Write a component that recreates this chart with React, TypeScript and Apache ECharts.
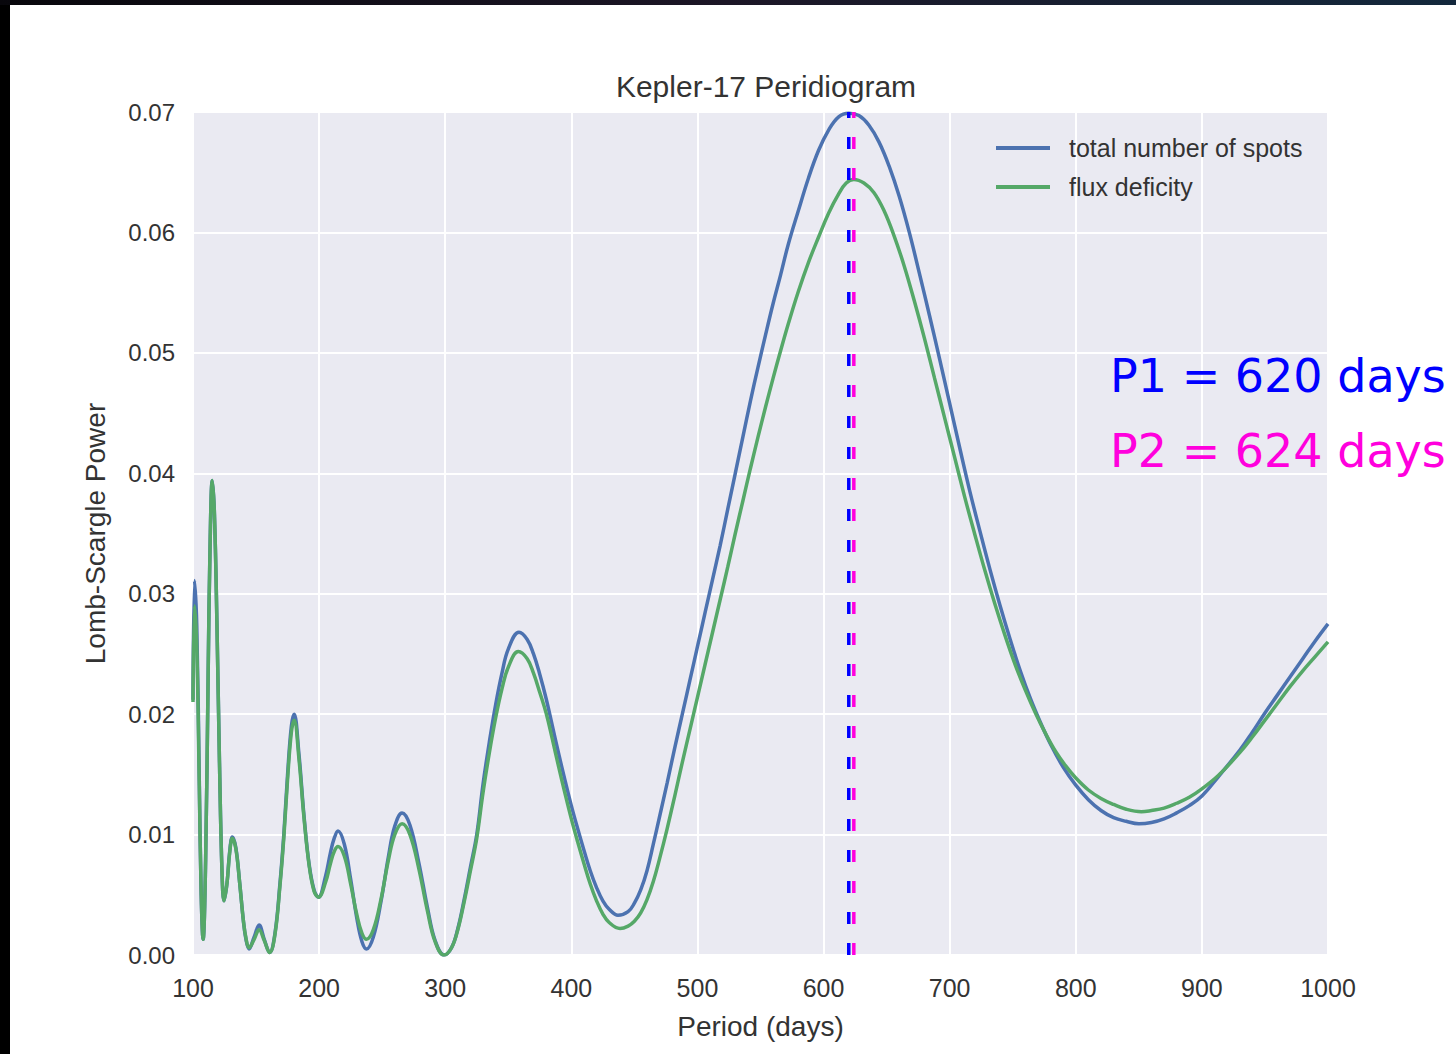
import React, { useEffect, useRef } from "react";
import * as echarts from "echarts";

const titleText = "Kepler-17 Peridiogram";
const xAxisName = "Period (days)";
const yAxisName = "Lomb-Scargle Power";
const seriesNames = ["total number of spots", "flux deficity"];

const bluePeriods = [
  100, 101.2, 103, 105, 106.5, 108, 110, 112, 113.5, 115.3, 117, 119, 121, 123, 124.6, 127, 129, 131.2, 134, 137,
  140, 142, 144.4, 148.5, 152.4, 156.5, 160.8, 165, 169, 172, 175, 178, 180.2, 184, 188, 192, 196, 199.5, 205, 209,
  212, 215, 220, 225, 230, 234, 237.6, 243, 249, 255, 260, 265.8, 272, 279, 286, 292, 299, 305, 310, 315,
  320, 325, 330, 335, 340, 345, 350, 358.5, 365, 370, 375, 380, 385, 390, 395, 400, 405, 410, 415, 420,
  425, 430, 437, 445, 450, 455, 460, 465, 470, 476, 482, 488, 494, 500, 506, 512, 518, 524, 530, 536,
  542, 548, 554, 560, 566, 572, 580, 588, 596, 604, 612, 620, 628, 636, 644, 652, 660, 668, 676, 684,
  692, 700, 708, 716, 724, 732, 740, 748, 756, 764, 772, 780, 790, 800, 810, 820, 830, 840, 850, 860,
  870, 880, 890, 900, 913, 930, 940, 950, 960, 970, 980, 990, 1000,
];
const blueValues = [
  0.0212, 0.0311, 0.0273, 0.0144, 0.005, 0.0013, 0.0078, 0.0232, 0.0338, 0.0394, 0.0366, 0.0274, 0.016, 0.0069, 0.0045, 0.006, 0.0085, 0.0098, 0.0089, 0.006,
  0.0028, 0.0013, 0.0005, 0.0015, 0.0025, 0.0013, 0.0002, 0.0018, 0.006, 0.01, 0.015, 0.019, 0.02, 0.0167, 0.0116, 0.0076, 0.0054, 0.0048, 0.0065, 0.0085,
  0.0097, 0.0103, 0.0092, 0.0063, 0.003, 0.0011, 0.0005, 0.0015, 0.0044, 0.0082, 0.0107, 0.0118, 0.0108, 0.0077, 0.0039, 0.0012, 0.0, 0.0006, 0.0022, 0.0046,
  0.0073, 0.01, 0.0142, 0.0177, 0.0208, 0.0234, 0.0254, 0.0268, 0.0262, 0.025, 0.0233, 0.0213, 0.019, 0.0167, 0.0145, 0.0124, 0.0105, 0.0087, 0.007, 0.0056,
  0.0045, 0.0038, 0.0033, 0.0036, 0.0043, 0.0054, 0.007, 0.0092, 0.0115, 0.0143, 0.0172, 0.02, 0.0228, 0.0256, 0.0284, 0.0312, 0.034, 0.037, 0.04, 0.043,
  0.046, 0.0488, 0.0515, 0.0541, 0.0565, 0.059, 0.0618, 0.0645, 0.0668, 0.0685, 0.0696, 0.0699, 0.0697, 0.0689, 0.0675, 0.0655, 0.063, 0.06, 0.0566, 0.0531,
  0.0495, 0.0458, 0.0421, 0.0385, 0.0352, 0.032, 0.029, 0.0262, 0.0236, 0.0213, 0.0193, 0.0175, 0.0156, 0.0141, 0.0129, 0.012, 0.0114, 0.0111, 0.0109, 0.011,
  0.0113, 0.0118, 0.0124, 0.0132, 0.0148, 0.017, 0.0185, 0.0201, 0.0216, 0.0231, 0.0246, 0.0261, 0.0275,
];

const greenPeriods = [
  100, 101.2, 103, 105, 106.5, 108, 110, 112, 113.5, 115.3, 117, 119, 121, 123, 124.6, 127, 129, 131.2, 134, 137,
  140, 142, 144.4, 148.5, 152.4, 156.5, 160.8, 165, 169, 172, 175, 178, 180.2, 184, 188, 192, 196, 199.5, 205, 209,
  212, 215, 220, 225, 230, 234, 237.6, 243, 249, 255, 260, 265.8, 272, 279, 286, 292, 299, 305, 310, 315,
  320, 325, 330, 335, 340, 345, 350, 358, 365, 370, 375, 380, 385, 390, 395, 400, 405, 410, 415, 420,
  425, 430, 438.6, 445, 450, 455, 460, 465, 470, 476, 482, 488, 494, 500, 506, 512, 518, 524, 530, 536,
  542, 548, 554, 560, 566, 572, 580, 588, 596, 604, 612, 618, 624, 632, 640, 648, 656, 664, 672, 680,
  688, 696, 704, 712, 720, 728, 736, 744, 752, 760, 768, 776, 784, 792, 800, 810, 820, 830, 840, 852,
  860, 870, 880, 890, 900, 913, 930, 940, 950, 960, 970, 980, 990, 1000,
];
const greenValues = [
  0.021, 0.029, 0.0256, 0.014, 0.005, 0.0013, 0.0078, 0.0232, 0.0338, 0.0394, 0.0366, 0.0274, 0.016, 0.0069, 0.0045, 0.006, 0.0084, 0.0097, 0.0088, 0.006,
  0.0028, 0.0014, 0.0006, 0.0013, 0.0021, 0.0012, 0.0002, 0.0017, 0.0058, 0.0097, 0.0146, 0.0185, 0.0195, 0.0163, 0.0114, 0.0075, 0.0053, 0.0048, 0.006, 0.0076,
  0.0086, 0.009, 0.0082, 0.0059, 0.0033, 0.0018, 0.0013, 0.0021, 0.0046, 0.0079, 0.01, 0.0109, 0.01, 0.0072, 0.0036, 0.0011, 0.0, 0.0006, 0.0021, 0.0044,
  0.007, 0.0097, 0.0135, 0.0168, 0.0197, 0.0221, 0.0239, 0.0252, 0.0246, 0.0234, 0.0218, 0.0201, 0.0179, 0.0156, 0.0134, 0.0113, 0.0094, 0.0076, 0.0059, 0.0045,
  0.0034, 0.0027, 0.0022, 0.0024, 0.0028, 0.0035, 0.0046, 0.0061, 0.008, 0.0105, 0.0132, 0.016, 0.0187, 0.0214, 0.0241, 0.0268, 0.0295, 0.0322, 0.035, 0.0377,
  0.0404, 0.043, 0.0455, 0.0479, 0.0502, 0.0524, 0.0551, 0.0575, 0.0596, 0.0616, 0.0632, 0.0641, 0.0644, 0.0641, 0.0633, 0.0618, 0.0597, 0.0572, 0.0543, 0.0512,
  0.0479, 0.0446, 0.0413, 0.038, 0.0349, 0.0319, 0.0291, 0.0265, 0.0241, 0.022, 0.0201, 0.0184, 0.0169, 0.0157, 0.0147, 0.0137, 0.013, 0.0125, 0.0121, 0.0119,
  0.012, 0.0122, 0.0126, 0.0131, 0.0138, 0.0149, 0.0168, 0.0181, 0.0195, 0.0209, 0.0223, 0.0236, 0.0248, 0.026,
];

const peakPeriods = [620, 624];
const peakLabels = ["P1 = 620 days", "P2 = 624 days"];
const peakColors = ["#0000ff", "#ff00dd"];

const curveColors = ["#4C72B0", "#55A868"];
const FONT = "'Liberation Sans', Arial, sans-serif";
const TEXT = "#333333";

export default function App() {
  const ref = useRef<HTMLDivElement>(null);

  useEffect(() => {
    if (!ref.current) return;
    const chart = echarts.init(ref.current, null, { renderer: "svg" });

    const blueData = bluePeriods.map((p, i) => [p, blueValues[i]]);
    const greenData = greenPeriods.map((p, i) => [p, greenValues[i]]);

    const peakSeries = peakPeriods.map((p, i) => ({
      name: peakLabels[i],
      type: "line",
      data: [
        [p, 0],
        [p, 0.07],
      ],
      showSymbol: false,
      symbol: "none",
      silent: true,
      z: 5,
      lineStyle: { color: peakColors[i], width: 3.5, type: [12, 19] },
    }));

    chart.setOption({
      animation: false,
      backgroundColor: "#ffffff",
      title: {
        text: titleText,
        left: 761,
        textAlign: "center",
        top: 66,
        textStyle: { fontFamily: FONT, fontSize: 30, fontWeight: "normal", color: TEXT },
      },
      legend: {
        data: seriesNames,
        orient: "vertical",
        left: 996,
        top: 133,
        padding: 0,
        icon: "rect",
        itemWidth: 54,
        itemHeight: 4,
        itemGap: 9,
        textStyle: { fontFamily: FONT, fontSize: 25, color: TEXT, lineHeight: 30, padding: [0, 0, 0, 14] },
      },
      grid: {
        left: 193,
        right: 128,
        top: 112,
        bottom: 99,
        show: true,
        backgroundColor: "#EAEAF2",
        borderWidth: 0,
      },
      xAxis: {
        type: "value",
        min: 100,
        max: 1000,
        interval: 100,
        name: xAxisName,
        nameLocation: "middle",
        nameGap: 57,
        nameTextStyle: { fontFamily: FONT, fontSize: 28, color: TEXT },
        axisLine: { show: false },
        axisTick: { show: false },
        axisLabel: { fontFamily: FONT, fontSize: 25, color: TEXT, margin: 20, formatter: (v: number) => String(v) },
        splitLine: { show: true, lineStyle: { color: "#ffffff", width: 2 } },
      },
      yAxis: {
        type: "value",
        min: 0,
        max: 0.07,
        interval: 0.01,
        name: yAxisName,
        nameLocation: "middle",
        nameRotate: 90,
        nameGap: 84,
        nameTextStyle: { fontFamily: FONT, fontSize: 28, color: TEXT },
        axisLine: { show: false },
        axisTick: { show: false },
        axisLabel: {
          fontFamily: FONT,
          fontSize: 24,
          color: TEXT,
          margin: 18,
          formatter: (v: number) => v.toFixed(2),
        },
        splitLine: { show: true, lineStyle: { color: "#ffffff", width: 2 } },
      },
      series: [
        {
          name: seriesNames[0],
          type: "line",
          data: blueData,
          showSymbol: false,
          symbol: "none",
          smooth: 0.4,
          z: 3,
          lineStyle: { color: curveColors[0], width: 3.5 },
          itemStyle: { color: curveColors[0] },
        },
        {
          name: seriesNames[1],
          type: "line",
          data: greenData,
          showSymbol: false,
          symbol: "none",
          smooth: 0.4,
          z: 4,
          lineStyle: { color: curveColors[1], width: 3.5 },
          itemStyle: { color: curveColors[1] },
        },
        ...peakSeries,
      ],
      graphic: [
        {
          type: "rect",
          left: 0,
          top: 0,
          z: 100,
          shape: { width: 10, height: 1054 },
          style: { fill: "#000000" },
        },
        {
          type: "rect",
          left: 0,
          top: 0,
          z: 100,
          shape: { width: 1456, height: 5 },
          style: {
            fill: new echarts.graphic.LinearGradient(0, 0, 1, 0, [
              { offset: 0, color: "#08070c" },
              { offset: 0.5, color: "#1c1626" },
              { offset: 1, color: "#13283c" },
            ]),
          },
        },
        {
          type: "text",
          left: 1110,
          top: 353,
          z: 50,
          style: {
            text: peakLabels[0],
            fill: peakColors[0],
            font: "46px 'DejaVu Sans'",
          },
        },
        {
          type: "text",
          left: 1110,
          top: 428,
          z: 50,
          style: {
            text: peakLabels[1],
            fill: peakColors[1],
            font: "46px 'DejaVu Sans'",
          },
        },
      ],
    });

    return () => chart.dispose();
  }, []);

  return (
    <div
      ref={ref}
      style={{ position: "fixed", left: 0, top: 0, width: 1456, height: 1054, overflow: "hidden", background: "#fff" }}
    />
  );
}
